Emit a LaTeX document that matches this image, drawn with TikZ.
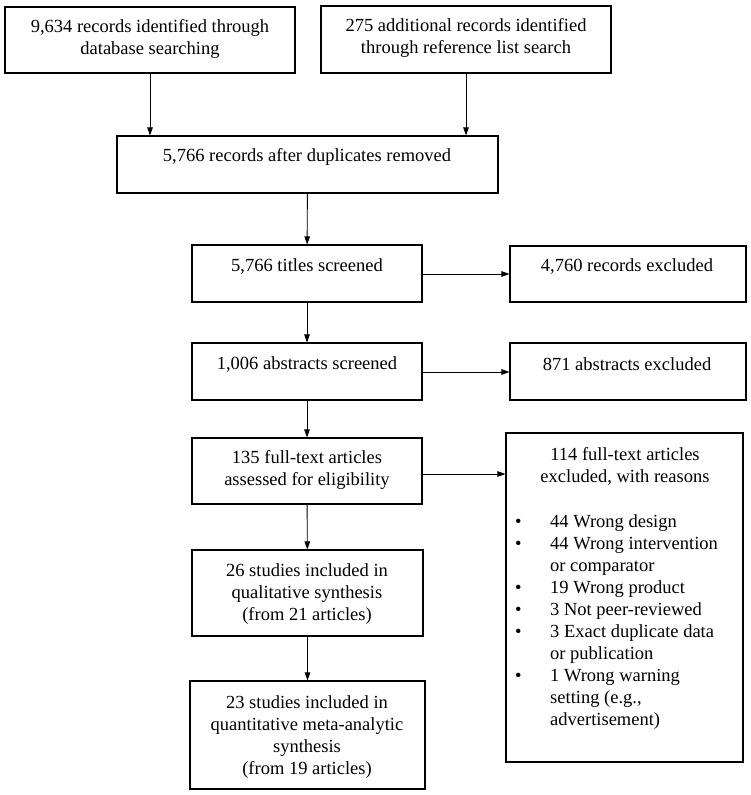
\documentclass[tikz,border=0pt]{standalone}
\usepackage{fontspec}
\setmainfont{Liberation Serif}
\usetikzlibrary{arrows.meta}
\newcommand{\bitem}{\makebox[35pt][l]{\textbullet}}
\newcommand{\bcont}{\hspace*{35pt}}
\begin{document}
\begin{tikzpicture}[x=1pt,y=-1pt,
  box/.style={draw, line width=1.1pt, inner sep=0pt},
  txt/.style={align=center, inner sep=0pt, font=\fontsize{18.5}{22}\selectfont},
  arr/.style={-{Triangle[length=8pt,width=5.5pt]}, line width=0.9pt}]
\useasboundingbox[fill=white] (0,0) rectangle (751,795);
% boxes
\node[box, minimum width=290pt, minimum height=66pt] (A) at (150,40) {};
\node[box, minimum width=290pt, minimum height=67pt] (B) at (466,39.5) {};
\node[box, minimum width=381pt, minimum height=57pt] (C) at (307.5,164.5) {};
\node[box, minimum width=230pt, minimum height=57pt] (D) at (307,273.5) {};
\node[box, minimum width=236pt, minimum height=56pt] (D2) at (628,274) {};
\node[box, minimum width=230pt, minimum height=57pt] (E) at (307,371.5) {};
\node[box, minimum width=236pt, minimum height=57pt] (E2) at (628,371.5) {};
\node[box, minimum width=230pt, minimum height=66pt] (F) at (307,471) {};
\node[box, minimum width=237pt, minimum height=329pt] (F2) at (624.5,597.5) {};
\node[box, minimum width=231pt, minimum height=86pt] (G) at (307.5,593) {};
\node[box, minimum width=235pt, minimum height=108pt] (H) at (307.5,735) {};
% texts
\node[txt] (tA) at (150,39) {9,634 records identified through\\database searching};
\node[txt] (tB) at (466,38) {275 additional records identified\\through reference list search};
\node[txt] (tC) at (307,157) {5,766 records after duplicates removed};
\node[txt] (tD) at (307,267) {5,766 titles screened};
\node[txt] (tD2) at (627,267) {4,760 records excluded};
\node[txt] (tE) at (307,364) {1,006 abstracts screened};
\node[txt] (tE2) at (627,364) {871 abstracts excluded};
\node[txt] (tF) at (307,469.5) {135 full-text articles\\assessed for eligibility};
\node[txt] (tF2) at (625,466) {114 full-text articles\\excluded, with reasons};
\node[txt] (tG) at (307,594) {26 studies included in\\qualitative synthesis\\(from 21 articles)};
\node[txt] (tH) at (307,737) {23 studies included in\\quantitative meta-analytic\\synthesis\\(from 19 articles)};
\node[txt, align=left, anchor=north west] (list) at (515,514.5) {%
\bitem 44 Wrong design\\
\bitem 44 Wrong intervention\\
\bcont or comparator\\
\bitem 19 Wrong product\\
\bitem 3 Not peer-reviewed\\
\bitem 3 Exact duplicate data\\
\bcont or publication\\
\bitem 1 Wrong warning\\
\bcont setting (e.g.,\\
\bcont advertisement)};
% connectors
\draw[arr] (A) -- (A |- C.north);
\draw[arr] (B) -- (B |- C.north);
\draw[arr] (C) -- (D);
\draw[arr] (D) -- (E);
\draw[arr] (E) -- (F);
\draw[arr] (F) -- (G);
\draw[arr] (G) -- (H);
\draw[arr] (D.east |- 0,274) -- (D2.west |- 0,274);
\draw[arr] (E.east |- 0,372) -- (E2.west |- 0,372);
\draw[arr] (F.east |- 0,474) -- (F2.west |- 0,474);
\end{tikzpicture}
\end{document}
